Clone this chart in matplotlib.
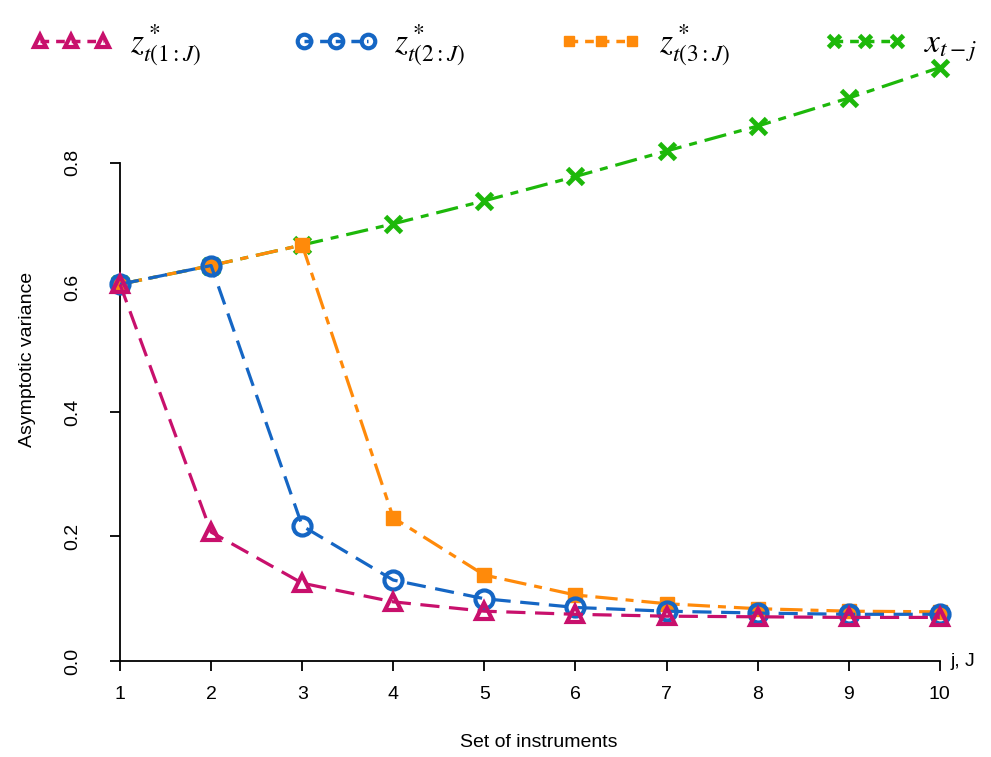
import matplotlib
matplotlib.use("Agg")
from matplotlib import pyplot as plt

plt.rcParams['font.family'] = ['Liberation Sans', 'DejaVu Sans']
plt.rcParams['mathtext.fontset'] = 'stix'

j = [1, 2, 3, 4, 5, 6, 7, 8, 9, 10]
x_lag = [0.605, 0.635, 0.668, 0.702, 0.739, 0.778, 0.819, 0.859, 0.904, 0.953]
z3 = [0.605, 0.635, 0.668, 0.230, 0.138, 0.106, 0.092, 0.084, 0.080, 0.079]
z2 = [0.605, 0.635, 0.217, 0.130, 0.100, 0.086, 0.080, 0.077, 0.075, 0.075]
z1 = [0.605, 0.207, 0.125, 0.095, 0.080, 0.075, 0.072, 0.071, 0.070, 0.070]

labels = [r'$z^*_{t(1:J)}$', r'$z^*_{t(2:J)}$', r'$z^*_{t(3:J)}$', r'$x_{t-j}$']

magenta = '#C8106C'
blue = '#1566C4'
orange = '#FF8A0A'
green = '#1DB80A'

fig = plt.figure(figsize=(9.91, 7.57), dpi=100)
ax = fig.add_axes([0.1211, 0.1268, 0.8456, 0.798])

lw = 2.3
h4, = ax.plot(j, x_lag, color=green, lw=lw, dashes=(7, 2.5, 2.5, 2.5), marker='x',
              ms=12, mew=3.5, clip_on=False, zorder=3)
h3, = ax.plot(j, z3, color=orange, lw=lw, dashes=(7, 2.5, 2.5, 2.5), marker='s',
              ms=10, mec=orange, mfc=orange, clip_on=False, zorder=4)
h2, = ax.plot(j, z2, color=blue, lw=lw, dashes=(6, 3), marker='o', ms=13,
              mfc='none', mew=3, clip_on=False, zorder=5)
h1, = ax.plot(j, z1, color=magenta, lw=lw, dashes=(6, 3), marker='^', ms=12,
              mfc='none', mew=3, clip_on=False, zorder=6)

ax.set_xlim(1, 10.2)
ax.set_ylim(0, 0.97)
for s in ['top', 'right']:
    ax.spines[s].set_visible(False)
ax.spines['left'].set_bounds(0, 0.8)
ax.spines['bottom'].set_bounds(1, 10)
for s in ['left', 'bottom']:
    ax.spines[s].set_linewidth(1.3)

ax.set_xticks(j)
ax.set_yticks([0.0, 0.2, 0.4, 0.6, 0.8])
ax.set_yticklabels(['0.0', '0.2', '0.4', '0.6', '0.8'], rotation=90, va='center')
ax.tick_params(length=7, width=1.3, labelsize=14)
ax.tick_params(axis='x', pad=11)
ax.tick_params(axis='y', pad=21)

ax.set_xlabel('Set of instruments', fontsize=14, labelpad=22)
ax.set_ylabel('Asymptotic variance', fontsize=14, labelpad=20)
ax.text(10.12, 0.0, 'j, J', fontsize=14, ha='left', va='center', clip_on=False)

leg = fig.legend([h1, h2, h3, h4], labels, loc='upper center', bbox_to_anchor=(0.508, 1.01),
                 ncol=4, frameon=False, fontsize=24, numpoints=3, handlelength=2.5,
                 columnspacing=2.8, handletextpad=0.5, markerscale=0.75)
for lh in leg.get_lines():
    lh.set_linewidth(2.5)
    lh.set_dashes((2.5, 2))

fig.savefig('out.png', dpi=100)
